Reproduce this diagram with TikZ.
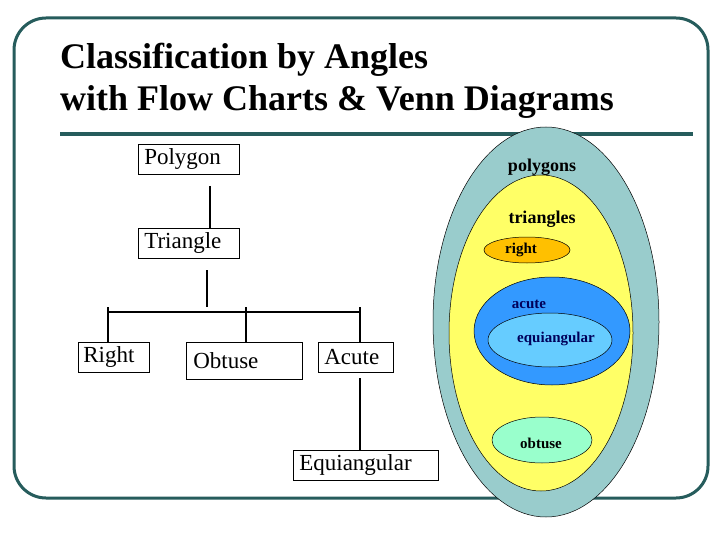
\documentclass[tikz,border=0pt]{standalone}
\usepackage{fontspec}
\setmainfont{Liberation Serif}
\begin{document}
\begin{tikzpicture}[x=1pt,y=-1pt,
  box/.style={draw,line width=0.6pt,inner sep=0pt,font=\fontsize{23}{24}\selectfont,anchor=north west,align=left},
  con/.style={line width=1.4pt},
  ven/.style={draw,line width=0.5pt},
  vl/.style={font=\bfseries\fontsize{15}{16}\selectfont}]
\useasboundingbox (0,0) rectangle (720,540);
\fill[white] (0,0) rectangle (720,540);
\draw[line width=3pt,color=teal!60!black!70!gray,rounded corners=32] (14,18) rectangle (708,498);
\draw[line width=4pt,color=teal!60!black!70!gray] (60,134) -- (693,134);
\node[anchor=west,inner sep=0pt,font=\bfseries\fontsize{36}{38}\selectfont] (t1) at (60,60) {Classification by Angles};
\node[anchor=west,inner sep=0pt,font=\bfseries\fontsize{36}{38}\selectfont] (t2) at (60,102) {with Flow Charts \& Venn Diagrams};
% flow chart
\node[box,minimum width=101pt,minimum height=30pt,text width=101pt] (pol) at (138,144) {\hspace*{6pt}Polygon};
\node[box,minimum width=101pt,minimum height=30pt,text width=101pt] (tri) at (138,228) {\hspace*{6pt}Triangle};
\node[box,minimum width=71pt,minimum height=30pt,text width=71pt] (ri) at (78,342) {\hspace*{5pt}Right};
\node[box,minimum width=116pt,minimum height=37pt,text width=116pt] (ob) at (186,342) {\hspace*{7pt}Obtuse};
\node[box,minimum width=75pt,minimum height=30pt,text width=75pt] (ac) at (318,342) {\hspace*{6pt}Acute};
\node[box,minimum width=145pt,minimum height=30pt,text width=145pt] (eq) at (293,450) {\hspace*{6pt}Equiangular};
\coordinate (p1) at (210,186);
\coordinate (t3) at (207,270);
\coordinate (t4) at (207,307);
\coordinate (hl) at (108,312);
\coordinate (hr) at (360,312);
\coordinate (a1) at (360,378);
\draw[con] (p1) -- (tri.north -| p1);
\draw[con] (t3) -- (t4);
\draw[con] (hl) -- (hr);
\draw[con] (108,307) -- (ri.north -| 108,0);
\draw[con] (246,307) -- (ob.north -| 246,0);
\draw[con] (360,307) -- (ac.north -| 360,0);
\draw[con] (a1) -- (eq.north -| a1);
% venn
\draw[ven,fill={rgb,255:red,153;green,204;blue,204}] (546,322) ellipse [x radius=113,y radius=195];
\draw[ven,fill={rgb,255:red,255;green,255;blue,102}] (541,333) ellipse [x radius=92,y radius=158];
\draw[ven,fill={rgb,255:red,255;green,192;blue,0}] (527,250) ellipse [x radius=43,y radius=13];
\draw[ven,fill={rgb,255:red,51;green,153;blue,255}] (552,331) ellipse [x radius=78,y radius=54];
\draw[ven,fill={rgb,255:red,102;green,204;blue,255}] (550,340) ellipse [x radius=62,y radius=27];
\draw[ven,fill={rgb,255:red,153;green,255;blue,204}] (542,440) ellipse [x radius=50,y radius=23];
\node[font=\bfseries\fontsize{18}{19}\selectfont] (lp) at (542,167) {polygons};
\node[font=\bfseries\fontsize{18}{19}\selectfont] (lt) at (542,219) {triangles};
\node[vl] (lr) at (521,250) {right};
\node[vl,text={rgb,255:red,0;green,0;blue,90}] (la) at (529,304) {acute};
\node[vl,text={rgb,255:red,0;green,0;blue,90}] (le) at (556,339) {equiangular};
\node[vl] (lo) at (541,443) {obtuse};
\end{tikzpicture}
\end{document}
